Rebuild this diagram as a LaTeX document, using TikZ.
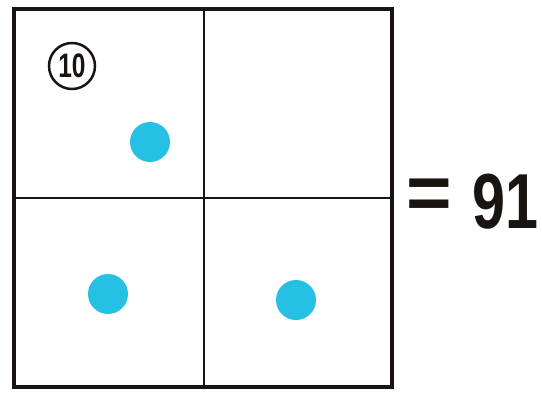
\documentclass[tikz,border=0pt]{standalone}
\usepackage{fontspec}
\setmainfont{Liberation Sans}
\definecolor{ink}{RGB}{25,20,18}
\definecolor{dotc}{RGB}{38,192,228}
\begin{document}
\begin{tikzpicture}[x=1pt,y=-1pt,
  dotnode/.style={circle,fill=dotc,minimum size=40pt,inner sep=0pt},
  frameline/.style={draw=ink,line width=4pt},
  gridline/.style={draw=ink,line width=1.8pt},
  bigtext/.style={text=ink,inner sep=0pt,font=\fontsize{78}{78}\selectfont\bfseries}]
\useasboundingbox (0,0) rectangle (542,392);
\fill[white] (0,0) rectangle (542,392);
\draw[gridline] (204,9) -- (204,387);
\draw[gridline] (14,198) -- (392,198);
\draw[frameline] (14,9) rectangle (392,387);
\node[circle,draw=ink,line width=2.5pt,minimum size=46pt,inner sep=0pt,
      font=\fontsize{34}{34}\selectfont\bfseries,text=ink] (num) at (72,66) {\scalebox{0.72}[1]{10}};
\node[dotnode] (d1) at (150,142) {};
\node[dotnode] (d2) at (108,294) {};
\node[dotnode] (d3) at (296,300) {};
\node[bigtext] (eq) at (429,199) {=};
\node[bigtext,anchor=west] (res) at (472,202) {\scalebox{0.76}[1]{9\kern1pt1}};
\end{tikzpicture}
\end{document}
